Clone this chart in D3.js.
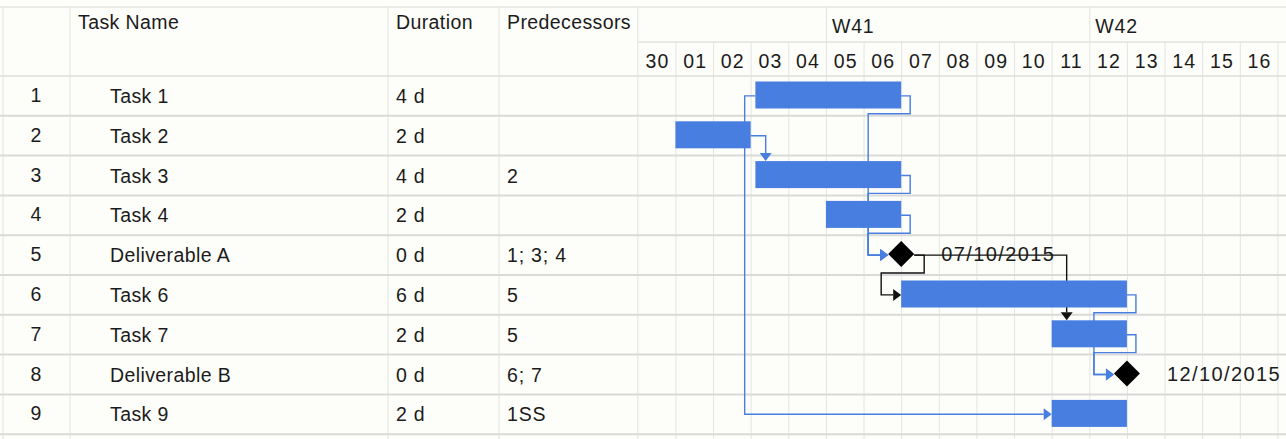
<!DOCTYPE html>
<html><head><meta charset="utf-8">
<script src="https://cdn.jsdelivr.net/npm/d3@7"></script>
<style>
html,body{margin:0;padding:0;background:#fdfdf9;overflow:hidden}
svg{display:block;font-family:"Liberation Sans",Arial,Helvetica,sans-serif}
</style>
</head><body>
<svg id="c" width="1286" height="439"></svg>
<script>
// ---------- data ----------
const ids = [1,2,3,4,5,6,7,8,9];
const names = ["Task 1","Task 2","Task 3","Task 4","Deliverable A","Task 6","Task 7","Deliverable B","Task 9"];
const durations = ["4 d","2 d","4 d","2 d","0 d","6 d","2 d","0 d","2 d"];
const predecessors = ["","","2","","1; 3; 4","5","5","6; 7","1SS"];
const startDates = ["2015-10-03T03:00","2015-10-01T00:00","2015-10-03T03:00","2015-10-05T00:00","2015-10-07T00:00","2015-10-07T00:00","2015-10-11T00:00","2015-10-13T00:00","2015-10-11T00:00"];
const durationDays = [4,2,4,2,0,6,2,0,2];
const milestoneLabels = ["","","","","07/10/2015","","","12/10/2015",""];
const linkFrom = [1,2,1,3,4,5,5,6,7];
const linkTo   = [9,3,5,5,5,6,7,8,8];
const linkType = ["SS","FS","FS","FS","FS","FS","FS","FS","FS"];
const headers = ["Task Name","Duration","Predecessors"];
const dayLabels = ["30","01","02","03","04","05","06","07","08","09","10","11","12","13","14","15","16","17"];
const weekLabels = ["W41","W42"];
const weekStarts = ["2015-10-05","2015-10-12"];
const timeStart = "2015-09-30", timeEnd = "2015-10-18";

// ---------- layout ----------
const W = 1286, H = 439;
const topY = 7, midY = 42, headB = 76, rowH = 39.8;
const colX = [3, 70, 388, 499];
const chartX0 = 637.8, dayW = 37.625;
const BLUE = "#477ee0", BLACK = "#111";
const parse = d3.utcParse("%Y-%m-%d");
const parseT = d3.utcParse("%Y-%m-%dT%H:%M");

const x = d3.scaleUtc().domain([parse(timeStart), parse(timeEnd)])
  .range([chartX0, chartX0 + dayLabels.length * dayW]);
const y = d3.scaleBand().domain(ids).range([headB, headB + ids.length * rowH]);

const tasks = ids.map((id,i)=>({id, name:names[i], dur:durations[i], pred:predecessors[i],
  start:parseT(startDates[i]), days:durationDays[i], label:milestoneLabels[i]}));
tasks.forEach(t=>{ t.day0 = d3.utcDay.floor(t.start); t.end = d3.utcDay.offset(t.day0, t.days); t.ms = t.days===0; });
const byId = new Map(tasks.map(t=>[t.id,t]));

const svg = d3.select("#c");
svg.append("rect").attr("width",W).attr("height",H).attr("fill","#fdfdf9");

const g = svg.append("g");
const days = d3.utcDay.range(parse(timeStart), parse(timeEnd));

// day grid lines
g.selectAll(".dl").data(days.slice(1)).join("line")
  .attr("x1",d=>x(d)+0.5).attr("x2",d=>x(d)+0.5).attr("y1",midY).attr("y2",H)
  .attr("stroke","#e4e4e2").attr("stroke-width",1);
// week lines in header
g.selectAll(".wl").data(weekStarts.map(parse)).join("line")
  .attr("x1",d=>x(d)+0.5).attr("x2",d=>x(d)+0.5).attr("y1",topY).attr("y2",midY)
  .attr("stroke","#e2e2e0");
// table column lines + chart left edge
g.selectAll(".cl").data(colX.concat([chartX0])).join("line")
  .attr("x1",d=>d).attr("x2",d=>d).attr("y1",topY).attr("y2",H)
  .attr("stroke","#e2e2e0").attr("stroke-width",1);
// horizontal lines
g.append("line").attr("x1",0).attr("x2",W).attr("y1",topY).attr("y2",topY).attr("stroke","#e4e4e2").attr("stroke-width",1.5);
g.append("line").attr("x1",chartX0).attr("x2",W).attr("y1",midY).attr("y2",midY).attr("stroke","#e2e2e0").attr("stroke-width",1.5);
g.append("line").attr("x1",0).attr("x2",W).attr("y1",headB).attr("y2",headB).attr("stroke","#dcdcdc").attr("stroke-width",1.5);
g.selectAll(".rl").data(ids).join("line")
  .attr("x1",0).attr("x2",W).attr("y1",d=>y(d)+y.bandwidth()).attr("y2",d=>y(d)+y.bandwidth())
  .attr("stroke","#d9d9d9").attr("stroke-width",2);

// header text
const txt = "#1b1b1b", fs = 19.5, ls = 0.4, lsNum = 1.2;
const hdrX = [78, 396, 507];
g.selectAll(".ht").data(headers).join("text")
  .attr("x",(d,i)=>hdrX[i]).attr("y",22).attr("dominant-baseline","central")
  .attr("font-size",fs).attr("letter-spacing",ls).attr("fill",txt).text(d=>d);
g.selectAll(".wt").data(weekLabels).join("text")
  .attr("x",(d,i)=>x(parse(weekStarts[i]))+6).attr("y",26).attr("dominant-baseline","central")
  .attr("font-size",fs).attr("letter-spacing",ls+0.4).attr("fill",txt).text(d=>d);
g.selectAll(".dt").data(days).join("text")
  .attr("x",d=>x(d)+dayW/2+1).attr("y",61).attr("text-anchor","middle").attr("dominant-baseline","central")
  .attr("font-size",fs).attr("letter-spacing",lsNum).attr("fill",txt).text((d,i)=>dayLabels[i]);

// table rows
const rows = g.selectAll(".row").data(tasks).join("g").attr("transform",d=>`translate(0,${y(d.id)+y.bandwidth()/2})`);
rows.append("text").attr("x",36).attr("y",-1).attr("text-anchor","middle").attr("dominant-baseline","central")
  .attr("font-size",fs).attr("fill",txt).text(d=>d.id);
rows.append("text").attr("x",110).attr("y",0).attr("dominant-baseline","central")
  .attr("font-size",fs).attr("letter-spacing",ls).attr("fill",txt).text(d=>d.name);
rows.append("text").attr("x",396).attr("y",0).attr("dominant-baseline","central")
  .attr("font-size",fs).attr("letter-spacing",ls+0.4).attr("fill",txt).text(d=>d.dur);
rows.append("text").attr("x",507).attr("y",0).attr("dominant-baseline","central")
  .attr("font-size",fs).attr("letter-spacing",ls+0.4).attr("fill",txt).text(d=>d.pred);

// ---------- links ----------
const MSH = 13, AL = 8, AW = 6;
const cy = id => y(id)+y.bandwidth()/2;
const rightEdge = t => t.ms ? x(t.start)+MSH : x(t.end);
const lg = svg.append("g");
const ag = [];
linkFrom.forEach((f,i)=>{
  const s = byId.get(f), t = byId.get(linkTo[i]);
  const col = s.ms ? BLACK : BLUE;
  let d, arrow;
  if (linkType[i]==="SS") {
    const sx = x(s.start), vx = x(s.day0)-6, tx = x(t.start);
    d = `M${sx},${cy(s.id)}H${vx}V${cy(t.id)}H${tx-AL}`;
    arrow = [[tx,cy(t.id)],[tx-AL,cy(t.id)-AW],[tx-AL,cy(t.id)+AW]];
  } else {
    const sx = rightEdge(s);
    const tStart = x(t.start);
    if (!t.ms && tStart >= sx) {
      const vx = x(t.day0) + 15, tTop = y(t.id)+5.5;
      d = `M${sx},${cy(s.id)}H${vx}V${tTop-AL}`;
      arrow = [[vx,tTop],[vx-AW,tTop-AL],[vx+AW,tTop-AL]];
    } else {
      const tip = t.ms ? tStart-MSH : tStart;
      const off = s.ms ? 10 : 9;
      const yb = y(s.id)+y.bandwidth()-2;
      d = `M${sx},${cy(s.id)}H${sx+off}V${yb}H${tip-20}V${cy(t.id)}H${tip-AL}`;
      arrow = [[tip,cy(t.id)],[tip-AL,cy(t.id)-AW],[tip-AL,cy(t.id)+AW]];
    }
  }
  lg.append("path").attr("d",d).attr("fill","none").attr("stroke",col).attr("stroke-width",1.4);
  ag.push({arrow, col});
});

// ---------- bars ----------
const bars = svg.append("g");
bars.selectAll("rect").data(tasks.filter(t=>!t.ms)).join("rect")
  .attr("x",d=>x(d.start)).attr("width",d=>x(d.end)-x(d.start))
  .attr("y",d=>y(d.id)+5.5).attr("height",27).attr("fill",BLUE);
svg.append("g").selectAll("polygon").data(ag).join("polygon")
  .attr("points",d=>d.arrow.map(p=>p.join(",")).join(" ")).attr("fill",d=>d.col);
// milestones
const ms = svg.append("g").selectAll("g").data(tasks.filter(t=>t.ms)).join("g")
  .attr("transform",d=>`translate(${x(d.start)},${cy(d.id)-1})`);
ms.append("path").attr("d",`M0,${-MSH}L${MSH},0L0,${MSH}L${-MSH},0Z`).attr("fill","#000");
ms.append("text").attr("x",40).attr("y",0).attr("dominant-baseline","central")
  .attr("font-size",fs+0.5).attr("letter-spacing",1.4).attr("fill",txt).text(d=>d.label);
</script>
</body></html>
